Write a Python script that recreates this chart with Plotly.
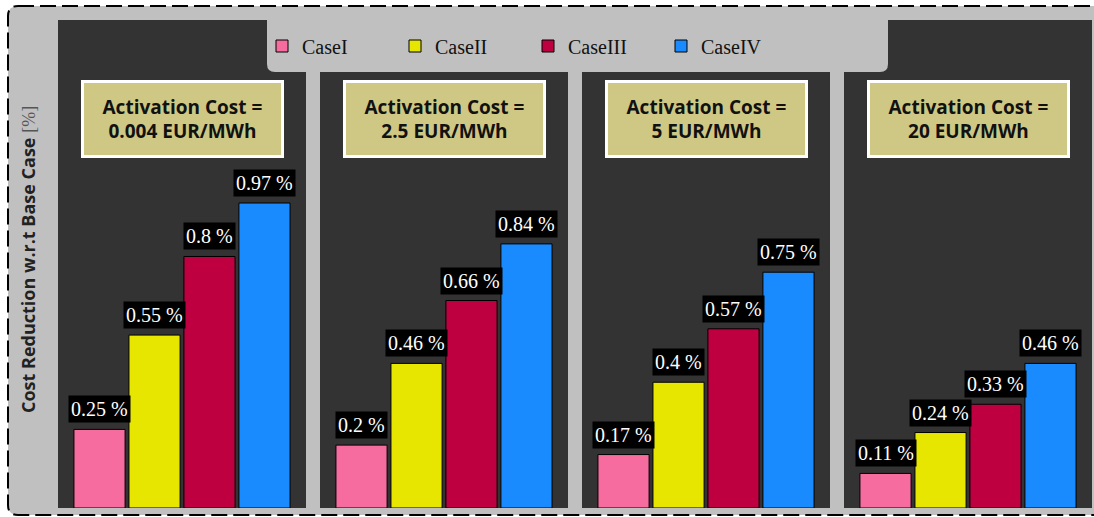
import plotly.graph_objects as go
from plotly.subplots import make_subplots

# ---------------- data ----------------
activation_costs = ["0.004", "2.5", "5", "20"]
case_names = ["CaseI", "CaseII", "CaseIII", "CaseIV"]
case_I = [0.25, 0.20, 0.17, 0.11]
case_II = [0.55, 0.46, 0.40, 0.24]
case_III = [0.80, 0.66, 0.57, 0.33]
case_IV = [0.97, 0.84, 0.75, 0.46]
case_colors = ["#F66C9F", "#E6E600", "#BE0040", "#1A8BFF"]

series = [case_I, case_II, case_III, case_IV]

SERIF = "Liberation Serif"
SANS = "Open Sans"

y_title = ("<b>Cost Reduction w.r.t Base Case</b> "
           f"<span style='font-family:{SERIF};font-weight:normal;color:#555555'>[%]</span>")

# ---------------- layout geometry ----------------
W, H = 1094, 517
ML, MR, MT, MB = 58, 2, 20, 9
PW, PH = W - ML - MR, H - MT - MB


def px(x):
    return (x - ML) / PW


def py(y):
    return (H - MB - y) / PH


fig = make_subplots(rows=1, cols=4, horizontal_spacing=14 / PW)

for p, cost in enumerate(activation_costs):
    col = p + 1
    sfx = str(col) if col > 1 else ""
    for c, name in enumerate(case_names):
        val = series[c][p]
        fig.add_trace(
            go.Bar(
                x=[c], y=[val], width=0.93, name=name,
                marker=dict(color=case_colors[c], line=dict(color="black", width=1)),
                showlegend=(p == 0), legendgroup=name, hoverinfo="y",
            ),
            row=1, col=col,
        )
        fig.add_annotation(
            x=c, y=val, xref="x" + sfx, yref="y" + sfx,
            text=f"{val:g} %", showarrow=False, yanchor="bottom", yshift=6,
            bgcolor="black", borderpad=2,
            font=dict(family=SERIF, size=20, color="white"),
        )
    fig.add_annotation(
        x=0.5, y=py(119), xref=f"x{sfx} domain", yref="paper",
        xanchor="center", yanchor="middle",
        text=f"Activation Cost =<br>{cost} EUR/MWh", showarrow=False,
        bgcolor="#CFC884", bordercolor="white", borderwidth=3,
        width=195, height=70, align="center",
        font=dict(family=SANS, size=19, color="#111111", weight="bold"),
    )

fig.update_xaxes(range=[-0.755, 3.755], showticklabels=False, showgrid=False,
                 zeroline=False, ticks="", fixedrange=True)
fig.update_yaxes(range=[0, PH / 314.4], showticklabels=False, showgrid=False,
                 zeroline=False, ticks="", fixedrange=True)

# y-axis title
fig.add_annotation(
    x=px(28), y=py(260), xref="paper", yref="paper", text=y_title,
    xanchor="center", yanchor="middle",
    textangle=-90, showarrow=False,
    font=dict(family=SANS, size=18, color="#222222"),
)

# rounded dashed outer border + white mask outside it
x0, x1, y0, y1, r = 8, 1104, 6, 515, 10


def rr_path(x0, x1, y0, y1, r):
    return (
        f"M{px(x0 + r)},{py(y0)} L{px(x1 - r)},{py(y0)} Q{px(x1)},{py(y0)} {px(x1)},{py(y0 + r)} "
        f"L{px(x1)},{py(y1 - r)} Q{px(x1)},{py(y1)} {px(x1 - r)},{py(y1)} "
        f"L{px(x0 + r)},{py(y1)} Q{px(x0)},{py(y1)} {px(x0)},{py(y1 - r)} "
        f"L{px(x0)},{py(y0 + r)} Q{px(x0)},{py(y0)} {px(x0 + r)},{py(y0)} Z"
    )


outer = f"M{px(-20)},{py(-20)} L{px(1120)},{py(-20)} L{px(1120)},{py(540)} L{px(-20)},{py(540)} Z "
fig.add_shape(type="path", xref="paper", yref="paper", path=outer + rr_path(x0, x1, y0, y1, r),
              fillcolor="white", fillrule="evenodd", line=dict(width=0), layer="above")
fig.add_shape(type="path", xref="paper", yref="paper", path=rr_path(x0, x1, y0, y1, r),
              line=dict(color="black", width=2, dash="16px,6px"), layer="above")

# legend background box
lx0, lx1, ly0, ly1, lr = 267, 888, 14, 72, 8
leg_path = (
    f"M{px(lx0)},{py(ly0)} L{px(lx1)},{py(ly0)} L{px(lx1)},{py(ly1 - lr)} "
    f"Q{px(lx1)},{py(ly1)} {px(lx1 - lr)},{py(ly1)} L{px(lx0 + lr)},{py(ly1)} "
    f"Q{px(lx0)},{py(ly1)} {px(lx0)},{py(ly1 - lr)} Z"
)
fig.add_shape(type="path", xref="paper", yref="paper", path=leg_path,
              fillcolor="#C0C0C0", line=dict(width=0), layer="below")

fig.update_layout(
    width=W, height=H,
    margin=dict(l=ML, r=MR, t=MT, b=MB),
    paper_bgcolor="#C0C0C0", plot_bgcolor="#333333",
    barmode="overlay",
    showlegend=True,
    legend=dict(
        orientation="h", x=px(262), xanchor="left", y=py(46), yanchor="middle",
        bgcolor="rgba(0,0,0,0)", font=dict(family=SERIF, size=20, color="#111111"),
        entrywidth=88, itemwidth=30,
    ),
)

fig.write_html("out.html")
